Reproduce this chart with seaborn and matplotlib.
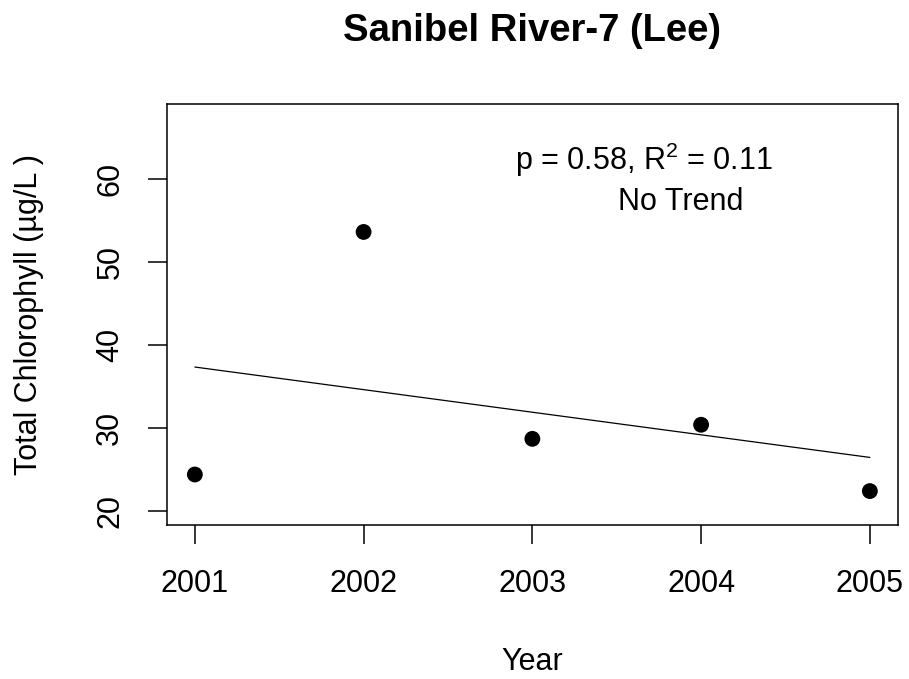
import matplotlib
matplotlib.use("Agg")
import matplotlib.pyplot as plt
import seaborn as sns
import numpy as np
import pandas as pd

# ---- data ----
years = [2001, 2002, 2003, 2004, 2005]
chlorophyll = [24.4, 53.65, 28.7, 30.4, 22.4]
x_ticks = [2001, 2002, 2003, 2004, 2005]
y_ticks = [20, 30, 40, 50, 60]
title = "Sanibel River-7 (Lee)"
x_label = "Year"
y_label = "Total Chlorophyll (µg/L )"
stats_text = r"p = 0.58, R$^2$ = 0.11"
trend_text = "No Trend"

sns.set_style("ticks")
plt.rcParams["font.family"] = ["Liberation Sans", "DejaVu Sans"]
plt.rcParams["mathtext.fontset"] = "custom"
plt.rcParams["mathtext.rm"] = "Liberation Sans"
plt.rcParams["mathtext.it"] = "Liberation Sans:italic"
plt.rcParams["mathtext.bf"] = "Liberation Sans:bold"
plt.rcParams["text.color"] = "black"
plt.rcParams["axes.labelcolor"] = "black"
plt.rcParams["xtick.color"] = "black"
plt.rcParams["ytick.color"] = "black"

df = pd.DataFrame({"Year": years, "Chl": chlorophyll})

fig = plt.figure(figsize=(9.09, 6.79), dpi=100)
ax = fig.add_axes([167 / 909, 1 - 525 / 679, (897.7 - 167) / 909, (525 - 104) / 679])

sns.regplot(data=df, x="Year", y="Chl", ax=ax, ci=None, truncate=True,
            scatter_kws=dict(s=130, color="black", edgecolor="none", alpha=1),
            line_kws=dict(color="black", lw=0.9))

ax.set_xlim(2000.835, 2005.165)
ax.set_ylim(18.31, 69.08)
ax.set_xticks(x_ticks)
ax.set_xticklabels([str(t) for t in x_ticks])
ax.set_yticks(y_ticks)
ax.set_yticklabels([str(t) for t in y_ticks], rotation=90, va="center")

for s in ax.spines.values():
    s.set_visible(True)
    s.set_linewidth(1.1)
    s.set_color("black")

ax.tick_params(axis="both", length=14, width=1.1, labelsize=22, colors="black")
ax.tick_params(axis="x", pad=18)
ax.tick_params(axis="y", pad=16)

ax.set_xlabel(x_label, fontsize=22, va="center", color="black")
ax.xaxis.set_label_coords(0.5, (525 - 662) / 421)
ax.set_ylabel(y_label, fontsize=22, ha="center", va="center", color="black")
ax.yaxis.set_label_coords((29 - 167) / 730.7, 0.5)

ax.set_title(title, fontsize=27.5, fontweight="bold", y=(525 - 31) / 421, va="center",
             pad=0, color="black")

ax.text(0.653, 0.867, stats_text, transform=ax.transAxes, ha="center", va="center",
        fontsize=22, color="black")
ax.text(0.703, 0.767, trend_text, transform=ax.transAxes, ha="center", va="center",
        fontsize=22, color="black")

fig.savefig("out.png", dpi=100, facecolor="white")
